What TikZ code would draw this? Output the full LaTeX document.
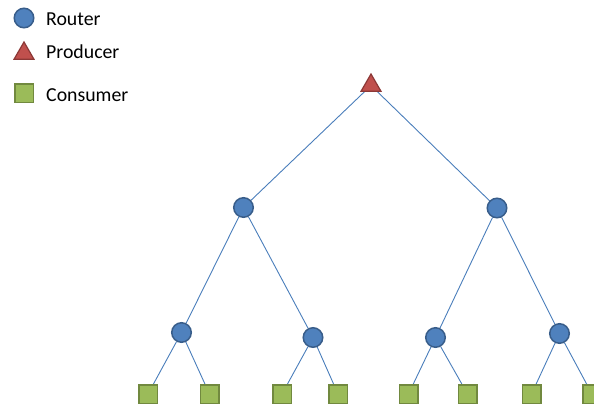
\documentclass[tikz,border=0pt]{standalone}
\usepackage{fontspec}
\setmainfont{Carlito}
\usetikzlibrary{shapes.geometric,backgrounds}
\definecolor{routerfill}{HTML}{4F81BD}
\definecolor{routerline}{HTML}{385D8A}
\definecolor{prodfill}{HTML}{C0504D}
\definecolor{prodline}{HTML}{8C3836}
\definecolor{consfill}{HTML}{9BBB59}
\definecolor{consline}{HTML}{71893F}
\definecolor{linkcol}{HTML}{4A7EBB}
\tikzset{
  router/.style={circle,draw=routerline,fill=routerfill,line width=1.5pt,minimum size=19.5pt,inner sep=0pt},
  producer/.style={regular polygon,regular polygon sides=3,draw=prodline,fill=prodfill,line width=1.2pt,minimum size=23pt,inner sep=0pt},
  consumer/.style={rectangle,draw=consline,fill=consfill,line width=1.5pt,minimum size=18.5pt,inner sep=0pt},
  legendtext/.style={anchor=base west,inner sep=0pt,font=\fontsize{19.8}{24}\selectfont},
  link/.style={draw=linkcol,line width=0.9pt}
}
\begin{document}
\begin{tikzpicture}[x=1pt,y=-1pt]
\useasboundingbox (0,0) rectangle (594,405);
% legend
\node[router] (lr) at (24,18) {};
\node[legendtext] (lrt) at (46,25) {Router};
\node[producer] (lp) at (24,53.5) {};
\node[legendtext] (lpt) at (46,58.5) {Producer};
\node[consumer] (lc) at (24,93) {};
\node[legendtext] (lct) at (46,101) {Consumer};
% tree nodes
\node[producer] (p) at (371,85.5) {};
\node[router] (r1) at (243.5,207.5) {};
\node[router] (r2) at (497,208) {};
\node[router] (r11) at (181.5,332.5) {};
\node[router] (r12) at (313,337.5) {};
\node[router] (r21) at (435.5,337.5) {};
\node[router] (r22) at (559.5,333.5) {};
\node[consumer] (c1) at (148,394) {};
\node[consumer] (c2) at (209.5,394) {};
\node[consumer] (c3) at (282,394) {};
\node[consumer] (c4) at (338,394) {};
\node[consumer] (c5) at (408.5,394) {};
\node[consumer] (c6) at (467.5,394) {};
\node[consumer] (c7) at (531.5,394) {};
\node[consumer] (c8) at (592,394) {};
% links
\begin{scope}[on background layer]
\draw[link] (p.center) -- (r1.center);
\draw[link] (p.center) -- (r2.center);
\draw[link] (r1) -- (r11);
\draw[link] (r1) -- (r12);
\draw[link] (r2) -- (r21);
\draw[link] (r2) -- (r22);
\draw[link] (r11) -- (c1);
\draw[link] (r11) -- (c2);
\draw[link] (r12) -- (c3);
\draw[link] (r12) -- (c4);
\draw[link] (r21) -- (c5);
\draw[link] (r21) -- (c6);
\draw[link] (r22) -- (c7);
\draw[link] (r22) -- (c8);
\end{scope}
\end{tikzpicture}
\end{document}
